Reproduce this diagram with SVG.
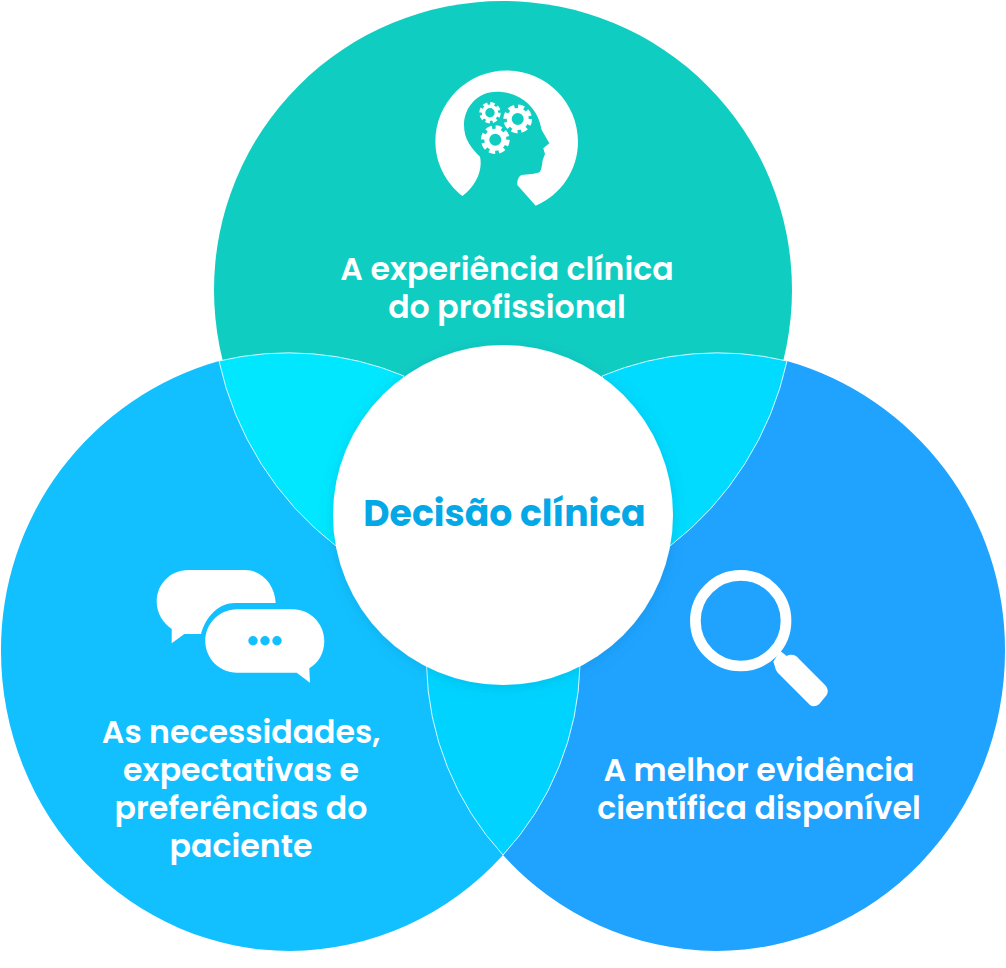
<svg xmlns="http://www.w3.org/2000/svg" width="1006" height="968" viewBox="0 0 1006 968">
<defs>
<filter id="shadow" x="-20%" y="-20%" width="140%" height="140%"><feDropShadow dx="0" dy="2" stdDeviation="7" flood-color="#006a9a" flood-opacity="0.2"/></filter>
</defs>
<style>
.t{font-family:"Poppins","Inter","Liberation Sans",sans-serif;font-weight:600;font-size:31.600px;fill:#fff;text-anchor:middle}
.i{fill:#fff}
.lens{stroke:#d4fbff;stroke-width:1}
.ring{fill:none;stroke:#fff}
</style>
<rect width="1006" height="968" fill="#fff"/>
<g id="node-experiencia">
<circle cx="503" cy="290" r="289" fill="#10cdc2"/>
</g>
<g id="node-paciente">
<path d="M219 361A300 300 0 0 0 1 651A289 300 0 0 0 290 951A290 290 0 0 0 503 855L427 665Z" fill="#12c0ff"/>
</g>
<g id="node-evidencia">
<path d="M787 361A300 300 0 0 1 1005 651A289 300 0 0 1 716 951A290 290 0 0 1 503 855L580 665Z" fill="#1fa3ff"/>
</g>
<g id="connectors">
<path class="lens" d="M219 361A300 300 0 0 1 404 376L336 546A320 320 0 0 1 219 361Z" fill="#00e7ff"/>
<path class="lens" d="M787 361A300 300 0 0 0 602 376L670 546A320 320 0 0 0 787 361Z" fill="#00dbff"/>
<path class="lens" d="M426.500 665A290 290 0 0 0 503 855A290 290 0 0 0 580 665Z" fill="#00d3ff"/>
</g>
<g id="node-decisao">
<circle cx="503" cy="515" r="170" fill="#fff" filter="url(#shadow)"/>
<text x="504.500" y="526" text-anchor="middle" style="font-family:'Poppins','Inter','Liberation Sans',sans-serif;font-weight:700;font-size:36.200px;fill:#05a8e6">Decisão clínica</text>
</g>
<g id="icon-head" class="i">
<path fill-rule="evenodd" d="M462.300 196C446 183 435.400 163 435.400 141.700C435.400 102.300 467.300 70.400 506.700 70.400C546 70.400 578 102.300 578 141.700C578 170 561 195 535.700 205.700L517.300 185C517 181 518.500 176 521.700 175C528 174 535 174.500 540 171.700C541.500 169 541 168 541.700 166.700L542.700 160L545 154L543.300 148.300L549.300 143.300L541.700 130L540 123.300C535 105 518 91.700 496.700 91.700C477 91.700 464 108 464 125C464 139 471 148 480 156.700C483 170 476 186 462.300 196Z"/>
</g>
<g id="icon-gears">
<circle class="ring" cx="490" cy="112.700" r="6.500" stroke-width="3.600"/><circle class="ring" cx="490" cy="112.700" r="9.100" stroke-width="3.200" stroke-dasharray="4.400 2.750"/>
<circle class="ring" cx="517.700" cy="119" r="8.500" stroke-width="5"/><circle class="ring" cx="517.700" cy="119" r="12.200" stroke-width="4.400" stroke-dasharray="6 3.580"/>
<circle class="ring" cx="495.300" cy="139.700" r="8.500" stroke-width="5"/><circle class="ring" cx="495.300" cy="139.700" r="12.200" stroke-width="4.400" stroke-dasharray="6 3.580"/>
</g>
<g id="icon-chat" class="i">
<path d="M188.300 570H245C262 570 275 585 275.700 603H235C219 603 206 616 201 634H184.300L171.700 643.300V629C163 623 156.700 613 156.700 601.700C156.700 584 170.500 570 188.300 570Z"/>
<path d="M237 609.300H293C310 609.300 324.300 623.500 324.300 641C324.300 653 318.500 663 309.300 668.300L310 682.700L296.700 672.700H237C219.500 672.700 205.300 658.500 205.300 641C205.300 623.500 219.500 609.300 237 609.300Z"/>
<circle cx="253" cy="640.700" r="4.700" fill="#12c0ff"/><circle cx="265" cy="640.700" r="4.700" fill="#12c0ff"/><circle cx="277" cy="640.700" r="4.700" fill="#12c0ff"/>
</g>
<g id="icon-lens">
<circle cx="740.700" cy="620.700" r="45.300" fill="none" stroke="#fff" stroke-width="10.700"/>
<path class="i" d="M773.300 661.700L780 650.700L786.700 656C790 654 796 654 799.300 659.300L825 685C828 688 828.500 692 826.700 695L819.300 704C816 706.500 812.500 707 810 705L780 675C777 672 775.500 670 775 666.700Z"/>
</g>
<text class="t" x="507" y="280">A experiência clínica</text>
<text class="t" x="507" y="318">do profissional</text>
<text class="t" x="241" y="743">As necessidades,</text>
<text class="t" x="241" y="781">expectativas e</text>
<text class="t" x="241" y="819">preferências do</text>
<text class="t" x="241" y="857">paciente</text>
<text class="t" x="759" y="781">A melhor evidência</text>
<text class="t" x="759" y="819">científica disponível</text>
</svg>
